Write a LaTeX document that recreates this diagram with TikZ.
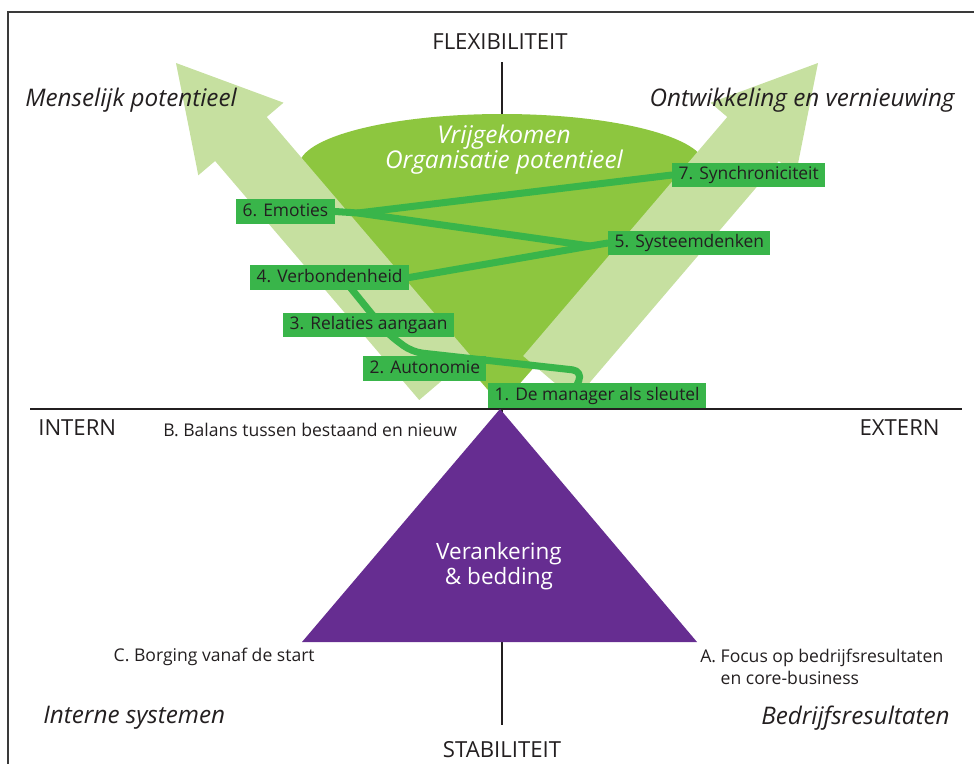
\documentclass[tikz,border=0pt]{standalone}
\usepackage{fontspec}
\setmainfont{Open Sans}
\usetikzlibrary{positioning, calc}
\definecolor{conegreen}{HTML}{8DC63F}
\definecolor{arrowgreen}{HTML}{C6E0A0}
\definecolor{boxgreen}{HTML}{39B54A}
\definecolor{anchorpurple}{HTML}{662D91}
\definecolor{ink}{HTML}{231F20}
\definecolor{framegray}{HTML}{3A3A3A}
\pgfdeclarelayer{background}
\pgfdeclarelayer{linklayer}
\pgfsetlayers{background,linklayer,main}

\begin{document}
\begin{tikzpicture}[
  x=0.02cm, y=-0.02cm,
  stepbox/.style={fill=boxgreen, text=ink, font=\fontsize{9.9}{11}\selectfont,
                  inner xsep=3.6pt, inner ysep=2pt, text height=7.5pt, text depth=2.2pt,
                  anchor=west},
  link/.style={draw=boxgreen, line width=4pt, line join=round, line cap=round},
  axislbl/.style={text=ink, inner sep=0pt, font=\fontsize{12.6}{14}\selectfont},
  quadlbl/.style={text=ink, inner sep=0pt, font=\fontsize{13.8}{15}\selectfont\itshape},
  pointlbl/.style={text=ink, inner sep=0pt, font=\fontsize{10}{12.5}\selectfont, align=left},
  axisline/.style={draw=ink, line width=1.3pt},
  bigarrow/.style={fill=arrowgreen}
]
  \useasboundingbox (0,0) rectangle (974,764);

  \begin{pgfonlayer}{background}
  % frame and axes
  \draw[framegray, line width=0.8pt] (8,764) -- (8,12) -- (974,12);
  \draw[axisline, line width=1.1pt] (502,62) -- (502,725);
  \draw[axisline] (30,409) -- (962,409);

  % cone
  \fill[conegreen] (502,166) ellipse [x radius=203, y radius=52];
  \fill[conegreen] (304,178) -- (700,178) -- (501,405) -- cycle;

  % arrows
  \fill[bigarrow] (176,63) -- (283.5,102.7) -- (266.7,117) -- (470.8,356)
    -- (419.2,400) -- (215.1,161) -- (198.3,175.3) -- cycle;
  \fill[bigarrow] (818,63) -- (710.5,102.7) -- (727.3,117) -- (523.2,356)
    -- (574.8,400) -- (778.9,161) -- (795.7,175.3) -- cycle;

  % purple triangle
  \fill[anchorpurple] (500,409) -- (697,642) -- (302,642) -- cycle;
  \end{pgfonlayer}

  \node[text=white, font=\fontsize{13.9}{14.2}\selectfont\itshape, align=center]
    (cone) at (504,150) {Vrijgekomen\\Organisatie potentieel};
  \node[text=white, font=\fontsize{12.8}{14.2}\selectfont, align=center]
    (anchoring) at (499,566) {Verankering\\\& bedding};

  % steps
  \node[stepbox] (n1) at (488,395.5) {1. De manager als sleutel};
  \node[stepbox] (n2) at (363,368.5) {2. Autonomie};
  \node[stepbox] (n3) at (283,325) {3. Relaties aangaan};
  \node[stepbox] (n4) at (250,277.5) {4. Verbondenheid};
  \node[stepbox] (n5) at (608,243) {5. Systeemdenken};
  \node[stepbox] (n6) at (236,211.5) {6. Emoties};
  \node[stepbox] (n7) at (672,175) {7. Synchroniciteit};

  \coordinate (k1) at (583,371);
  \coordinate (k2) at (412,352);
  \coordinate (k3) at (388,334);
  \coordinate (fork5) at (590,246);
  \coordinate (fork6) at (358,213);

  \begin{pgfonlayer}{linklayer}
  \draw[link, rounded corners=6] ($(n1.north west)+(88,4)$) -- (k1) -- (k2) -- (k3)
    -- ($(n4.south west)+(99,-4)$);
  \draw[link] (n4.east) -- (fork5) -- (n5.west);
  \draw[link] (n6.east) -- (fork6) -- (fork5);
  \draw[link] (fork6) -- (n7.west);
  \end{pgfonlayer}

  % labels
  \node[axislbl] (flex) at (500,42) {FLEXIBILITEIT};
  \node[axislbl] (stab) at (502,750) {STABILITEIT};
  \node[axislbl, anchor=west] (intern) at (38,428) {INTERN};
  \node[axislbl, anchor=east] (extern) at (940,428) {EXTERN};

  \node[quadlbl, anchor=west] (human) at (25,100) {Menselijk potentieel};
  \node[quadlbl, anchor=east] (develop) at (955,100) {Ontwikkeling en vernieuwing};
  \node[quadlbl, anchor=west] (systems) at (43,718) {Interne systemen};
  \node[quadlbl, anchor=east] (results) at (950,718) {Bedrijfsresultaten};

  \node[pointlbl, anchor=west] (ptb) at (163,430) {B. Balans tussen bestaand en nieuw};
  \node[pointlbl, anchor=east] (ptc) at (315,657) {C. Borging vanaf de start};
  \node[pointlbl, anchor=north west] (pta) at (700,649)
    {A. Focus op bedrijfsresultaten\\\phantom{A.}\ en core-business};
\end{tikzpicture}
\end{document}
